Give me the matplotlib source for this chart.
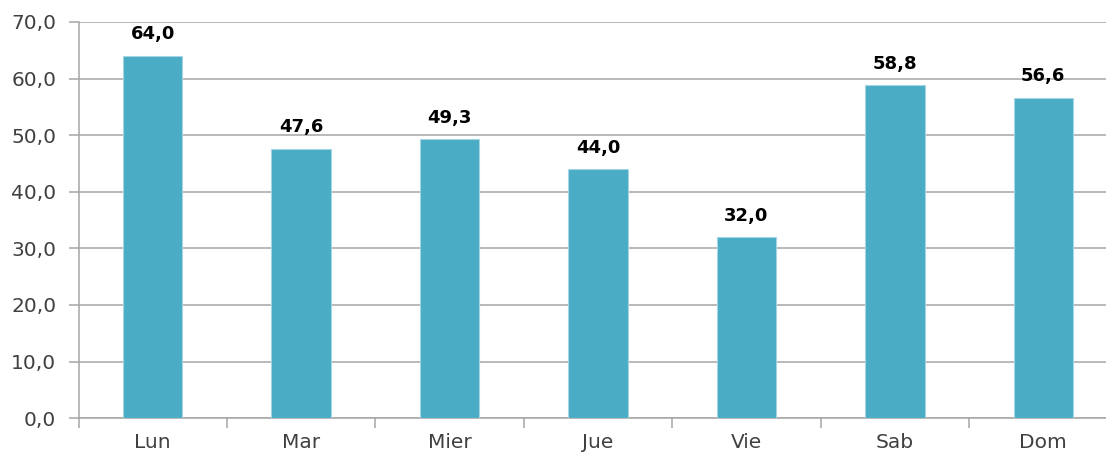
import matplotlib
matplotlib.use('Agg')
import matplotlib.pyplot as plt
import numpy as np

dias = ['Lun', 'Mar', 'Mier', 'Jue', 'Vie', 'Sab', 'Dom']
valores = [64.0, 47.6, 49.3, 44.0, 32.0, 58.8, 56.6]
yticks = [0, 10, 20, 30, 40, 50, 60, 70]

plt.rcParams['font.family'] = ['DejaVu Sans']

fig = plt.figure(figsize=(11.06, 4.57), dpi=100, facecolor='w')
# axes spills slightly past the right edge, as in the original
ax = fig.add_axes([0.0710, 0.085, 0.9394, 0.867])

x = np.arange(len(dias))
ax.bar(x, valores, width=0.40, color='#4BACC6', edgecolor='#A5D5E2', linewidth=0.8, zorder=3)

for xi, v in zip(x, valores):
    ax.text(xi, v + 2.2, '{0:.1f}'.format(v).replace('.', ','), ha='center', va='bottom',
            fontsize=13, fontweight='bold', color='black')

ax.set_xlim(-0.5, len(dias) - 0.5)
ax.set_ylim(0, 70)
ax.set_yticks(yticks)
ax.set_yticklabels(['{0:.1f}'.format(t).replace('.', ',') for t in yticks], fontsize=14.5, color='#404040')
ax.yaxis.grid(True, color='#A6A6A6', linewidth=1.1, zorder=0)

# category ticks between groups
ax.set_xticks(np.arange(-0.5, len(dias)), minor=False)
ax.set_xticklabels([])
ax.set_xticks(x, minor=True)
ax.set_xticklabels(dias, minor=True, fontsize=14.5, color='#404040')
ax.tick_params(axis='x', which='major', length=7, color='#A6A6A6', width=1.1)
ax.tick_params(axis='x', which='minor', length=0, pad=11)
ax.tick_params(axis='y', length=7, color='#A6A6A6', width=1.1, pad=9)

for s in ['top', 'right']:
    ax.spines[s].set_visible(False)
for s in ['left', 'bottom']:
    ax.spines[s].set_color('#A6A6A6')
    ax.spines[s].set_linewidth(1.1)

fig.savefig('out.png', dpi=100, facecolor='w')
